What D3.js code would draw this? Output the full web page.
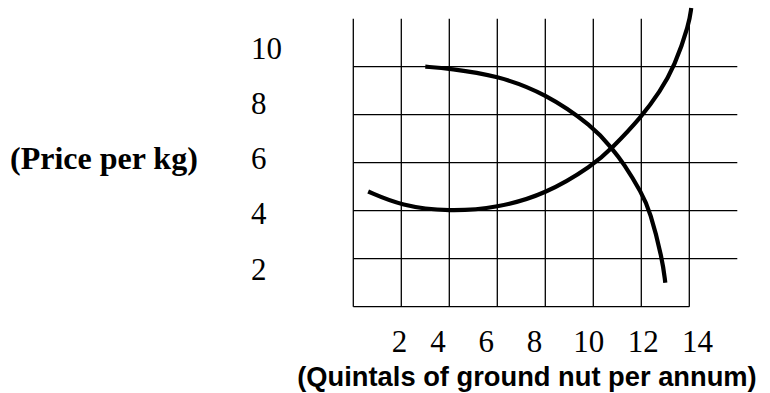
<!DOCTYPE html>
<html>
<head>
<meta charset="utf-8">
<script src="https://cdn.jsdelivr.net/npm/d3@7"></script>
<style>
  body { margin: 0; background: #fff; }
  svg { display: block; }
</style>
</head>
<body>
<div id="chart"></div>
<script>
// grid lines, in data units
const gridX = [0, 2, 4, 6, 8, 10, 12, 14];
const gridY = [2, 4, 6, 8, 10];

// tick labels
const xTickLabels = [2, 4, 6, 8, 10, 12, 14];
const yTickLabels = [10, 8, 6, 4, 2];

// falling curve
const demandX = [3.0, 4, 6, 8, 10, 10.77, 11.25, 12.02, 12.36, 12.88, 13.0];
const demandY = [10.0, 9.93, 9.63, 8.89, 7.5, 6.6, 6.0, 4.73, 4.0, 1.98, 1.0];

// U-shaped curve
const supplyX = [0.62, 2, 4, 6, 8, 10, 10.77, 12, 12.78, 13.38, 14, 14.08];
const supplyY = [4.8, 4.2, 3.96, 4.12, 4.68, 5.9, 6.6, 7.9, 8.97, 10.0, 11.8, 12.45];

const xTitle = "(Quintals of ground nut per annum)";
const yTitle = "(Price per kg)";

const width = 770,
  height = 393;

const serif = "'Liberation Serif', 'Times New Roman', serif";
const sans = "'Liberation Sans', Arial, sans-serif";

const svg = d3.select("#chart").append("svg")
  .attr("width", width)
  .attr("height", height);

svg.append("rect")
  .attr("width", width)
  .attr("height", height)
  .attr("fill", "#fff");

// grid scales
const x = d3.scaleLinear().domain([0, 14]).range([353.3, 689.3]);
const y = d3.scaleLinear().domain([0, 12]).range([306.7, 18.7]);

// the labels in the figure don't sit on the grid lines, so they get their own scales
const xLabel = d3.scaleLinear().domain([2, 4, 8, 14]).range([399, 437.5, 534, 697]);
const yLabel = d3.scaleLinear().domain([2, 10]).range([279, 58]);

const grid = svg.append("g")
  .attr("stroke", "#000")
  .attr("stroke-width", 1.3);

grid.selectAll(".vline")
  .data(gridX)
  .enter().append("line")
  .attr("class", "vline")
  .attr("x1", d => x(d))
  .attr("x2", d => x(d))
  .attr("y1", y(0))
  .attr("y2", y(12));

grid.selectAll(".hline")
  .data(gridY)
  .enter().append("line")
  .attr("class", "hline")
  .attr("x1", x(0))
  .attr("x2", x(16))
  .attr("y1", d => y(d))
  .attr("y2", d => y(d));

// bottom edge stops at the last vertical
grid.append("line")
  .attr("x1", x(0))
  .attr("x2", x(14))
  .attr("y1", y(0))
  .attr("y2", y(0));

// curves (hand-drawn in the original, so a smoothing spline)
const drawCurve = (xs, ys) => {
  const line = d3.line()
    .x(i => x(xs[i]))
    .y(i => y(ys[i]))
    .curve(d3.curveBasis);

  svg.append("path")
    .attr("d", line(d3.range(xs.length)))
    .attr("fill", "none")
    .attr("stroke", "#000")
    .attr("stroke-width", 4.2)
    .attr("stroke-linecap", "butt");
};

drawCurve(demandX, demandY);
drawCurve(supplyX, supplyY);

// x tick labels
const xAxis = svg.append("g")
  .attr("transform", "translate(0,352)")
  .call(d3.axisBottom(xLabel).tickValues(xTickLabels).tickSize(0).tickPadding(0));

xAxis.select(".domain").remove();
xAxis.selectAll("text")
  .attr("y", 0)
  .attr("dy", null)
  .attr("fill", "#000")
  .style("font-family", serif)
  .style("font-size", "31px");

// y tick labels
const yAxis = svg.append("g")
  .attr("transform", "translate(251,0)")
  .call(d3.axisLeft(yLabel).tickValues(yTickLabels).tickSize(0).tickPadding(0));

yAxis.select(".domain").remove();
yAxis.selectAll("text")
  .attr("x", 0)
  .attr("dy", null)
  .attr("text-anchor", "start")
  .attr("fill", "#000")
  .style("font-family", serif)
  .style("font-size", "31px");

// titles
svg.append("text")
  .attr("x", 10)
  .attr("y", 168.5)
  .style("font-family", serif)
  .style("font-weight", "bold")
  .style("font-size", "32px")
  .text(yTitle);

svg.append("text")
  .attr("x", 527)
  .attr("y", 386)
  .attr("text-anchor", "middle")
  .style("font-family", sans)
  .style("font-weight", "bold")
  .style("font-size", "27.3px")
  .text(xTitle);
</script>
</body>
</html>
